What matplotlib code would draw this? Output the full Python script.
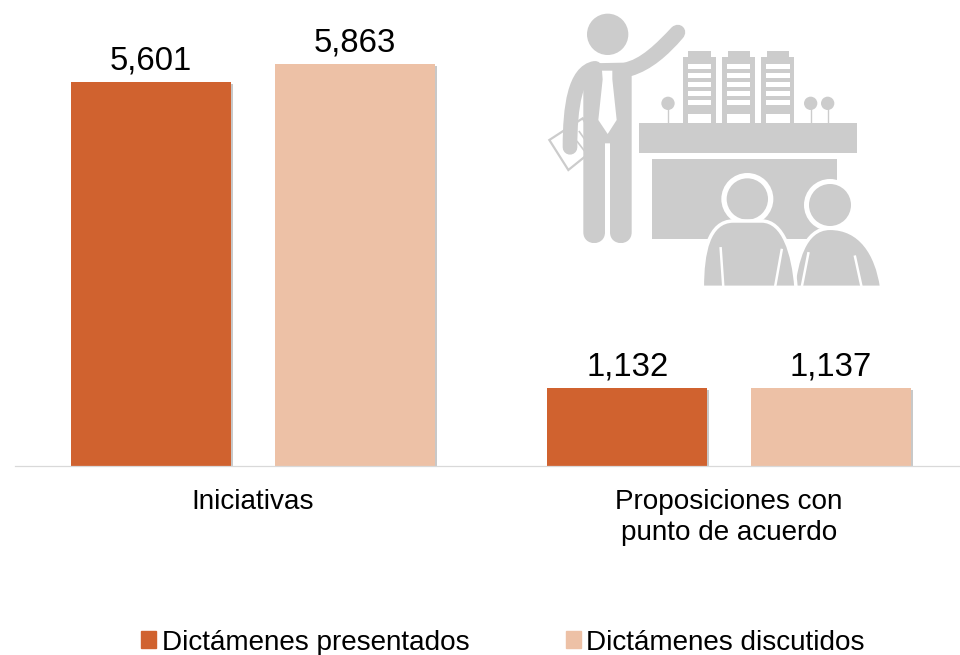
import numpy as np
import matplotlib
matplotlib.use("Agg")
import matplotlib.pyplot as plt
import matplotlib.patheffects as pe
from matplotlib.patches import Circle, Polygon, PathPatch, Patch
from matplotlib.path import Path

plt.rcParams['font.family'] = ['Liberation Sans', 'DejaVu Sans']

categories = ["Iniciativas", "Proposiciones con\npunto de acuerdo"]
presentados = [5601, 1132]
discutidos = [5863, 1137]
series_names = ["Dictámenes presentados", "Dictámenes discutidos"]

ORANGE = "#D0622F"
PEACH = "#EDC1A6"
GRAY = "#CCCCCC"

W, H = 960, 655
fig = plt.figure(figsize=(W / 100, H / 100), dpi=100)
ax = fig.add_axes([15 / W, (H - 466) / H, 952 / W, 466 / H])

x = np.arange(len(categories))
offset, width = 0.214, 0.336
shadow = [pe.withSimplePatchShadow(offset=(1.5, -1.5), shadow_rgbFace="#777777", alpha=0.4), pe.Normal()]
b1 = ax.bar(x - offset, presentados, width, color=ORANGE, path_effects=shadow, label=series_names[0])
b2 = ax.bar(x + offset, discutidos, width, color=PEACH, path_effects=shadow, label=series_names[1])
for b in (b1, b2):
    ax.bar_label(b, fmt=lambda v: f"{v:,.0f}", fontsize=23.7, padding=4.0, color="black")

ax.set_xlim(-0.5, 1.5)
ax.set_ylim(0, 6797)
ax.set_yticks([])
ax.set_xticks(x, categories, fontsize=20.1, linespacing=1.27)
ax.tick_params(axis="x", length=0, pad=16.5, colors="black")
for s in ("top", "left", "right"):
    ax.spines[s].set_visible(False)
ax.spines["bottom"].set_color("#D9D9D9")
ax.spines["bottom"].set_linewidth(0.9)

handles = [Patch(color=ORANGE), Patch(color=PEACH)]
fig.legend(handles, series_names, ncol=2, loc="center", bbox_to_anchor=(503 / W, 1 - 642.5 / H),
           frameon=False, fontsize=20.1, handlelength=0.54, handleheight=0.54,
           handletextpad=0.2, columnspacing=3.45, borderpad=0, borderaxespad=0)

# Decorative pictogram, drawn in pixel space of the zoomed reference
ic = fig.add_axes([0, 0, 1, 1], facecolor="none")
ic.set_xlim(0, W)
ic.set_ylim(H, 0)
ic.axis("off")


def T(pts):
    return [(540 + a / 3, b / 3) for a, b in pts]


def poly(pts, fc=GRAY, ec="none", lw=0, z=3):
    ic.add_patch(Polygon(T(pts), closed=True, fc=fc, ec=ec, lw=lw, zorder=z))


def rect(a0, b0, a1, b1, fc=GRAY, z=3):
    poly([(a0, b0), (a1, b0), (a1, b1), (a0, b1)], fc=fc, z=z)


def circ(a, b, r, fc=GRAY, z=3):
    ic.add_patch(Circle(T([(a, b)])[0], r / 3, fc=fc, ec="none", zorder=z))


def curve(pts, lw_zoom, color=GRAY, z=3, cap="round"):
    codes = [Path.MOVETO] + [Path.CURVE4] * (len(pts) - 1)
    ic.add_patch(PathPatch(Path(T(pts), codes), fc="none", ec=color, lw=lw_zoom / 3 * 0.72,
                           capstyle=cap, zorder=z))


def shape(start, segs, fc=GRAY, ec="none", lw=0, z=3):
    verts, codes = [start], [Path.MOVETO]
    for s in segs:
        if len(s) == 1:
            verts += s
            codes += [Path.LINETO]
        else:
            verts += s
            codes += [Path.CURVE4] * 3
    verts.append(start)
    codes.append(Path.CLOSEPOLY)
    ic.add_patch(PathPatch(Path(T(verts), codes), fc=fc, ec=ec, lw=lw, zorder=z))


# document
poly([(28, 420), (128, 355), (178, 435), (85, 510)], fc="white", ec=GRAY, lw=1.6, z=2)
for seg in ([(118, 395), (150, 440)], [(112, 425), (135, 455)]):
    ic.plot(*zip(*T(seg)), color=GRAY, lw=1.2, zorder=2)

# presenter
circ(203, 103, 62)
shape((150, 190), [[(250, 188)], [(300, 180), (350, 130), (395, 82)], [(420, 60), (450, 90), (428, 115)],
                   [(385, 165), (335, 210), (275, 228)], [(275, 697)], [(275, 740), (210, 740), (210, 697)],
                   [(210, 430)], [(195, 430)], [(195, 697)], [(195, 740), (130, 740), (130, 697)],
                   [(130, 250)], [(130, 225), (135, 200), (150, 190)]])
curve([(165, 205), (105, 215), (90, 320), (90, 442)], 44)
poly([(186, 212), (217, 212), (217, 238), (230, 360), (203, 402), (175, 360), (188, 238)], fc="white", z=4)

# table and front panel
rect(298, 370, 950, 460)
rect(336, 478, 892, 717)

# buildings
for dx in (0, 118, 236):
    rect(428 + dx, 170, 527 + dx, 370)
    rect(445 + dx, 152, 512 + dx, 172)
    for top, bot in ((192, 207), (219, 234), (246, 260), (273, 288), (300, 316), (342, 370)):
        rect(443 + dx, top, 513 + dx, bot, fc="white", z=4)

# lollipops
for a in (384, 812, 863):
    circ(a, 310, 20)
    ic.plot(*zip(*T([(a, 320), (a, 372)])), color=GRAY, lw=1.0, zorder=3)

# audience, right person
circ(870, 615, 78, fc="white", z=5)
circ(870, 615, 63, z=6)
shape((760, 862), [[(770, 790), (790, 685), (870, 685)], [(960, 685), (1010, 760), (1025, 862)]],
      ec="white", lw=2.5, z=6)
ic.plot(*zip(*T([(785, 862), (805, 760)])), color="white", lw=1.8, zorder=7)
ic.plot(*zip(*T([(965, 862), (945, 770)])), color="white", lw=1.8, zorder=7)

# audience, left person
circ(622, 597, 78, fc="white", z=8)
circ(622, 597, 62, z=9)
shape((487, 862), [[(487, 760), (505, 663), (580, 663)], [(665, 663)],
                   [(730, 663), (760, 760), (768, 862)]],
      ec="white", lw=2.5, z=9)
ic.plot(*zip(*T([(550, 862), (542, 745)])), color="white", lw=1.8, zorder=10)
ic.plot(*zip(*T([(705, 862), (725, 750)])), color="white", lw=1.8, zorder=10)
rect(470, 863, 1040, 880, fc="white", z=11)

fig.savefig("out.png", dpi=100)
